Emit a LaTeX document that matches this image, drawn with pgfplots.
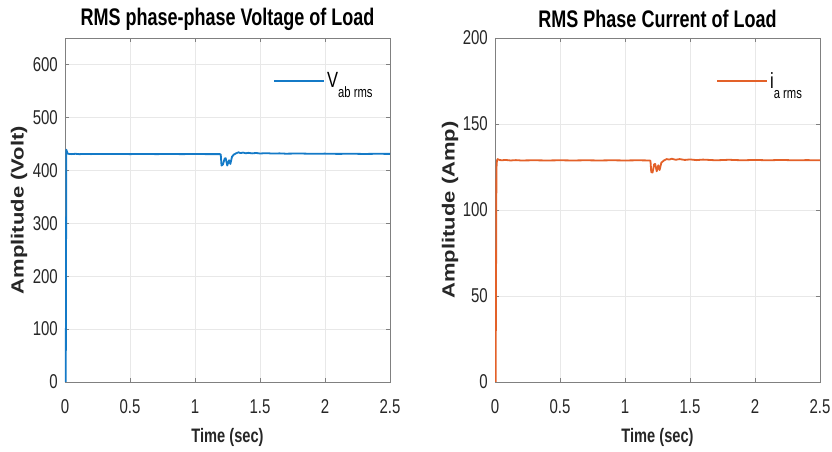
\documentclass[border=0pt]{standalone}
\usepackage{pgfplots}
\pgfplotsset{compat=1.18}
\usepackage{fontspec}
\setmainfont{Liberation Sans}[FakeStretch=0.75]
\newfontfamily\ylabfont{Liberation Sans}
\definecolor{mblue}{rgb}{0.08,0.48,0.78}
\definecolor{morange}{rgb}{0.89,0.38,0.16}
\definecolor{axgray}{gray}{0.5}
\definecolor{txt}{gray}{0.15}
\newcommand\tickfont{\fontsize{20}{22}\selectfont\color{txt}}
\newcommand\titlefont{\fontsize{24}{26}\selectfont\bfseries}
\newcommand\xlabfont{\fontsize{19.5}{22}\selectfont\bfseries\color{txt}}

\pgfplotsset{
  mystyle/.style={
    scale only axis, width=325pt, height=344pt,
    anchor=south west,
    xmin=0, xmax=2.5, xtick={0,0.5,...,2.5},
    xticklabels={0,0.5,1,1.5,2,2.5},
    grid=major, major grid style={gray!18, line width=0.6pt},
    axis line style={axgray, line width=0.8pt},
    tick align=inside, major tick length=4pt,
    every tick/.style={axgray, line width=0.8pt},
    /pgf/number format/assume math mode=true,
    xticklabel style={font=\tickfont, anchor=center, inner sep=0pt, yshift=-25pt},
    yticklabel style={font=\tickfont, anchor=east, inner sep=0pt, xshift=-7pt},
    legend cell align=left,
    legend style={draw=none, fill=none, inner sep=0pt, row sep=0pt},
    legend image code/.code={\draw[#1, line width=2pt] (0pt,0pt) -- (50pt,0pt);},
    /tikz/every even column/.style={column sep=2pt},
  }
}

\begin{document}
\begin{tikzpicture}[x=1pt,y=1pt]
\useasboundingbox (0,0) rectangle (832,452);

% ---------------- Left: voltage ----------------
\begin{axis}[mystyle, name=L, at={(65pt,70pt)},
  ymin=0, ymax=650, ytick={0,100,...,600},
  legend style={at={(axis description cs:0.64,0.875)}, anchor=west}]
\addplot[mblue, line width=1.8pt, line join=round] coordinates {
(0,0) (0.006,0) (0.008,220) (0.010,439) (0.014,436) (0.02,432) (0.03,431)
(0.05,430.6) (0.08,431.2) (0.11,430.5) (0.15,431) (0.2,430.6) (0.25,431)
(0.3,430.7) (0.4,430.9) (0.5,430.6) (0.6,430.8) (0.7,430.6) (0.8,430.7)
(0.9,430.6) (1.0,430.7) (1.1,430.6) (1.19,430.6) (1.198,430)
(1.204,409) (1.215,411) (1.228,422) (1.236,423) (1.248,409) (1.262,419)
(1.272,412) (1.285,426) (1.30,430) (1.315,432) (1.335,434) (1.35,432.5)
(1.37,433.5) (1.39,432.2) (1.41,433) (1.44,432) (1.47,432.8) (1.5,431.8)
(1.55,432.4) (1.6,431.6) (1.65,432) (1.7,431.4) (1.8,431.8) (1.9,431.2)
(2.0,431.5) (2.1,431) (2.2,431.3) (2.3,430.9) (2.4,431.2) (2.5,431)
};
\addlegendentry{\fontsize{22}{24}\selectfont V\raisebox{-10pt}{\fontsize{15}{16}\selectfont ab rms}}
\end{axis}

% ---------------- Right: current ----------------
\begin{axis}[mystyle, name=R, at={(495pt,70pt)},
  ymin=0, ymax=200, ytick={0,50,...,200},
  legend style={at={(axis description cs:0.68,0.875)}, anchor=west}]
\addplot[morange, line width=1.8pt, line join=round] coordinates {
(0,0) (0.005,0) (0.008,60) (0.011,124) (0.015,128.8) (0.02,129.6) (0.03,129.2)
(0.05,128.9) (0.08,129.1) (0.12,128.8) (0.16,129) (0.2,128.8) (0.3,128.9)
(0.4,128.8) (0.5,128.9) (0.6,128.8) (0.7,128.9) (0.8,128.8) (0.9,128.9)
(1.0,128.8) (1.1,128.9) (1.19,128.8) (1.196,128.5)
(1.202,122) (1.212,121.8) (1.224,126.5) (1.232,126.8) (1.244,122.5) (1.256,126)
(1.266,123.2) (1.28,127.6) (1.30,128.8) (1.32,129.6) (1.34,129.3) (1.36,129.8)
(1.39,129.2) (1.42,129.6) (1.46,129.1) (1.5,129.4) (1.55,129) (1.6,129.3)
(1.7,128.9) (1.8,129.2) (1.9,128.9) (2.0,129.1) (2.1,128.9) (2.2,129.1)
(2.3,128.9) (2.4,129) (2.5,128.9)
};
\addlegendentry{\fontsize{22}{24}\selectfont i\raisebox{-10pt}{\fontsize{15}{16}\selectfont a rms}}
\end{axis}

% titles and labels
\node[font=\titlefont, anchor=center] at ([yshift=19pt]L.north) {RMS phase-phase Voltage of Load};
\node[font=\titlefont, anchor=center] at ([yshift=19pt]R.north) {RMS Phase Current of Load};
\node[font=\xlabfont, anchor=center] at ([yshift=-55pt]L.south) {Time (sec)};
\node[font=\xlabfont, anchor=center] at ([yshift=-55pt]R.south) {Time (sec)};
\node[rotate=90, anchor=center, text=txt] at ([xshift=-46pt]L.west)
  {\scalebox{1}[0.8]{\ylabfont\fontsize{22}{24}\selectfont\bfseries Amplitude (Volt)}};
\node[rotate=90, anchor=center, text=txt] at ([xshift=-45pt]R.west)
  {\scalebox{1}[0.8]{\ylabfont\fontsize{22}{24}\selectfont\bfseries Amplitude (Amp)}};
\end{tikzpicture}
\end{document}
